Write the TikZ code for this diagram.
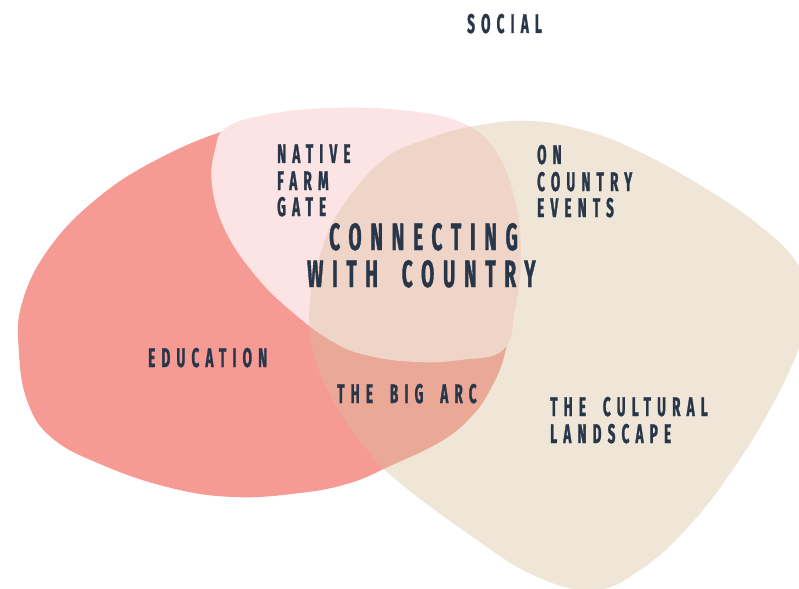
\documentclass[tikz,border=0pt]{standalone}
\usepackage{fontspec}
\newfontfamily\lblfont[FakeStretch=0.5,LetterSpace=23,WordSpace=1.8,FakeBold=1]{Fira Sans}
\definecolor{salmon}{HTML}{F69A94}
\definecolor{blush}{HTML}{FDE4E4}
\definecolor{sand}{RGB}{217,192,157}
\definecolor{ink}{HTML}{28364A}
\tikzset{
  lbl/.style={anchor=base west,inner sep=0pt,text=ink,font=\lblfont\bfseries\fontsize{27}{27}\selectfont},
  bigl/.style={anchor=base west,inner sep=0pt,text=ink,font=\lblfont\bfseries\fontsize{38}{38}\selectfont},
}
\begin{document}
\begin{tikzpicture}[x=1pt,y=-1pt]
\useasboundingbox (0,0) rectangle (799,588);
\clip (0,0) rectangle (799,588);
\fill[salmon] plot[smooth cycle,tension=0.7] coordinates {(227,130) (160,158) (100,196) (50,247) (22,303) (19,353) (28,403) (52,438) (100,464) (167,487) (233,497) (300,493) (350,483) (390,466) (440,442) (470,418) (490,390) (505,353) (512,300) (495,230) (440,160) (350,125) (280,120)};
\fill[blush] plot[smooth cycle,tension=0.7] coordinates {(227,127) (270,114) (330,108) (400,110) (460,122) (495,150) (515,200) (521,255) (515,310) (503,350) (460,360) (417,362) (370,356) (333,342) (290,310) (255,275) (225,230) (212,185) (215,150)};
\fill[sand,fill opacity=0.4] plot[smooth cycle,tension=0.7] coordinates {(310,300) (320,255) (340,210) (383,160) (430,138) (480,125) (533,121) (590,132) (640,152) (700,185) (755,222) (795,260) (812,300) (800,345) (775,400) (738,462) (690,525) (640,570) (593,590) (533,575) (467,533) (400,483) (367,450) (333,400) (313,350)};
\node[lbl] (social) at (467,33) {SOCIAL};
\node[lbl] (native) at (277,163) {NATIVE};
\node[lbl] (farm) at (277,190) {FARM};
\node[lbl] (gate) at (277,216) {GATE};
\node[lbl] (on) at (537,164) {ON};
\node[lbl] (country) at (537,191) {COUNTRY};
\node[lbl] (events) at (537,217) {EVENTS};
\node[bigl] (connecting) at (329,250) {CONNECTING};
\node[bigl] (withcountry) at (307,287) {WITH COUNTRY};
\node[lbl] (education) at (148,367) {EDUCATION};
\node[lbl] (bigarc) at (337,403) {THE BIG ARC};
\node[lbl] (cultural) at (550,416) {THE CULTURAL};
\node[lbl] (landscape) at (550,443) {LANDSCAPE};
\end{tikzpicture}
\end{document}
